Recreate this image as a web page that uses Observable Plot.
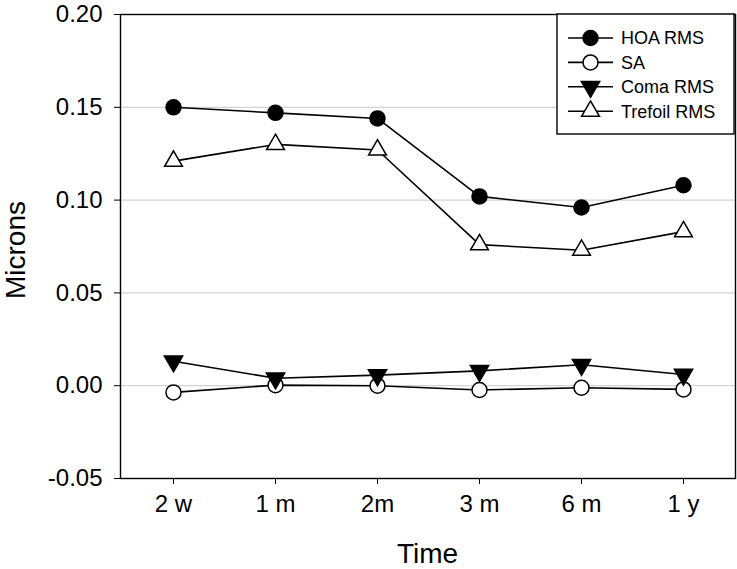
<!DOCTYPE html>
<html>
<head>
<meta charset="utf-8">
<script src="https://cdn.jsdelivr.net/npm/d3@7"></script>
<script src="https://cdn.jsdelivr.net/npm/@observablehq/plot@0.6"></script>
<style>
  html, body { margin: 0; padding: 0; background: #fff; }
  #chart { width: 737px; height: 569px; }
  svg { font-family: "Liberation Sans", Arial, sans-serif; }
</style>
</head>
<body>
<div id="chart"></div>
<script>
const categories = ["2 w", "1 m", "2m", "3 m", "6 m", "1 y"];
const hoaRMS     = [0.150, 0.147, 0.144, 0.102, 0.096, 0.108];
const sa         = [-0.0036, 0.0003, 0.0000, -0.0023, -0.0011, -0.0020];
const comaRMS    = [0.0132, 0.0040, 0.0057, 0.0080, 0.0113, 0.0060];
const trefoilRMS = [0.121, 0.130, 0.127, 0.076, 0.073, 0.083];
const yTicks = [-0.05, 0.00, 0.05, 0.10, 0.15, 0.20];
const seriesNames = ["HOA RMS", "SA", "Coma RMS", "Trefoil RMS"];
const xTitle = "Time";
const yTitle = "Microns";

const triangleDown = {
  draw(context, size) {
    const y = -Math.sqrt(size / (Math.sqrt(3) * 3));
    context.moveTo(0, -y * 2);
    context.lineTo(-Math.sqrt(3) * y, y);
    context.lineTo(Math.sqrt(3) * y, y);
    context.closePath();
  }
};

const series = [
  {name: seriesNames[0], values: hoaRMS, symbol: "circle", fill: "black", r: 7.5},
  {name: seriesNames[1], values: sa, symbol: "circle", fill: "white", r: 7.5},
  {name: seriesNames[2], values: comaRMS, symbol: triangleDown, fill: "black", r: 6.8},
  {name: seriesNames[3], values: trefoilRMS, symbol: "triangle", fill: "white", r: 6.6}
];

const W = 737, H = 569, mL = 120, mR = 2, mT = 14, mB = 91;

const marks = [
  Plot.gridY(yTicks, {stroke: "#c8c8c8", strokeOpacity: 1, strokeWidth: 1}),
  Plot.axisY(yTicks, {
    tickFormat: d => d.toFixed(2), tickSize: 6, tickPadding: 12, fontSize: 24, label: null
  }),
  Plot.axisX(categories, {
    tickSize: 6, tickPadding: 10, fontSize: 24, label: null
  })
];
for (const s of series) {
  const rows = categories.map((c, i) => ({time: c, value: s.values[i]}));
  marks.push(Plot.line(rows, {x: "time", y: "value", stroke: "black", strokeWidth: 1.6}));
  marks.push(Plot.dot(rows, {x: "time", y: "value", symbol: s.symbol, r: s.r, fill: s.fill, stroke: "black", strokeWidth: 1.5}));
}
marks.push(Plot.frame({stroke: "black", strokeWidth: 1.4}));

const chart = Plot.plot({
  width: W,
  height: H,
  marginLeft: mL,
  marginRight: mR,
  marginTop: mT,
  marginBottom: mB,
  style: {fontFamily: "'Liberation Sans', Arial, sans-serif", color: "black", background: "white", fontSize: "24px"},
  x: {type: "point", domain: categories, padding: 0.5},
  y: {domain: [-0.05, 0.20]},
  marks
});

const svg = d3.select(chart);

// Axis titles
svg.append("text")
  .attr("x", (mL + W - mR) / 2).attr("y", 563)
  .attr("text-anchor", "middle").attr("font-size", 28).attr("fill", "black")
  .text(xTitle);
svg.append("text")
  .attr("transform", `translate(25,${(mT + H - mB) / 2 + 4}) rotate(-90)`)
  .attr("text-anchor", "middle").attr("font-size", 28).attr("fill", "black")
  .text(yTitle);

// Legend
const lg = svg.append("g");
lg.append("rect").attr("x", 557).attr("y", mT).attr("width", 177).attr("height", 120)
  .attr("fill", "white").attr("stroke", "black").attr("stroke-width", 1.4);
series.forEach((s, i) => {
  const cy = mT + 24 + i * 24.4;
  lg.append("line").attr("x1", 568).attr("x2", 613).attr("y1", cy).attr("y2", cy)
    .attr("stroke", "black").attr("stroke-width", 1.6);
  const sym = typeof s.symbol === "string" ? (s.symbol === "circle" ? d3.symbolCircle : d3.symbolTriangle) : s.symbol;
  lg.append("path").attr("d", d3.symbol(sym, s.r * s.r * Math.PI)())
    .attr("transform", `translate(590.5,${cy})`)
    .attr("fill", s.fill).attr("stroke", "black").attr("stroke-width", 1.5);
  lg.append("text").attr("x", 621).attr("y", cy).attr("dy", "0.35em")
    .attr("text-anchor", "start")
    .attr("font-size", 18).attr("fill", "black").text(s.name);
});

document.getElementById("chart").appendChild(chart);
</script>
</body>
</html>
